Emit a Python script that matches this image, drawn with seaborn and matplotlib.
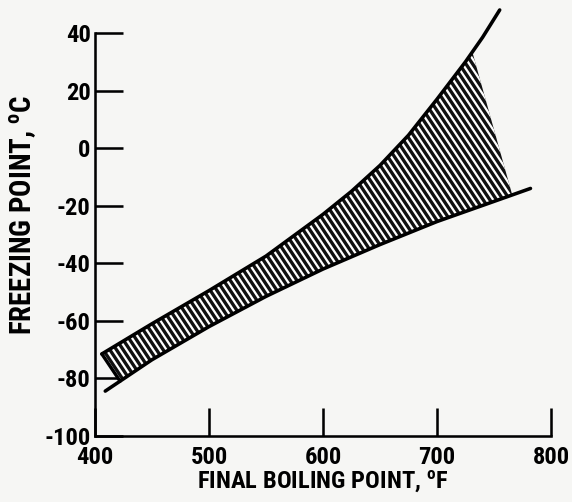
import numpy as np
import pandas as pd
import matplotlib
matplotlib.use("Agg")
import matplotlib.pyplot as plt
import matplotlib.hatch as mhatch
from matplotlib.path import Path
from matplotlib import font_manager as fm
import seaborn as sns

# ---- data ----
upper_x = [406, 450, 500, 550, 600, 625, 650, 675, 700, 725, 740, 755]
upper_y = [-71.5, -61, -49.5, -37.5, -23, -15, -6, 4.5, 17, 30, 38.5, 48]
lower_x = [409, 450, 500, 550, 600, 650, 700, 750, 782]
lower_y = [-84.4, -73.5, -62, -51.5, -42, -33.5, -25.5, -18.5, -14]

# x-limits of the hatched band on the upper / lower curve
hatch_left_upper, hatch_left_lower = 406, 422
hatch_right_upper, hatch_right_lower = 731, 766

x_ticks = [400, 500, 600, 700, 800]
y_ticks = [-100, -80, -60, -40, -20, 0, 20, 40]
x_label = "FINAL BOILING POINT, $^{\\mathbf{o}}$F"
y_label = "FREEZING POINT, $^{\\mathbf{o}}$C"


# ---- steeper '\' hatch (like the original drafting hatch) ----
class SteepSouthEastHatch(mhatch.HatchPatternBase):
    SLOPE = 1.5

    def __init__(self, hatch, density):
        c = hatch.count('\\')
        if c:
            self.d = 0.5 / (2 * c)
            kmin = -2
            kmax = int(np.ceil((1 + self.SLOPE) / self.d)) + 2
            self.ks = np.arange(kmin, kmax + 1)
            self.num_vertices = 2 * len(self.ks)
        else:
            self.ks = np.array([])
            self.num_vertices = 0

    def set_vertices_and_codes(self, vertices, codes):
        s = self.SLOPE
        b = self.ks * self.d
        y0, y1 = 1.3, -0.3
        vertices[0::2, 0] = (b - y0) / s
        vertices[0::2, 1] = y0
        vertices[1::2, 0] = (b - y1) / s
        vertices[1::2, 1] = y1
        codes[0::2] = Path.MOVETO
        codes[1::2] = Path.LINETO


try:
    mhatch._hatch_types = [SteepSouthEastHatch if t is mhatch.SouthEastHatch else t
                           for t in mhatch._hatch_types]
except Exception:
    pass

# ---- fonts: prefer a bold condensed sans ----
avail = {f.name for f in fm.fontManager.ttflist}
fam, stretch = "DejaVu Sans", "normal"
for p in ["Liberation Sans Narrow", "Roboto Condensed", "DejaVu Sans Condensed",
          "Noto Sans Condensed", "Open Sans Condensed"]:
    if p in avail:
        fam, stretch = p, "normal"
        break
else:
    for f in fm.fontManager.ttflist:
        if f.stretch in ("condensed", "semi-condensed") and f.name in (
                "DejaVu Sans", "Noto Sans", "Open Sans", "Roboto", "Liberation Sans"):
            fam, stretch = f.name, f.stretch
            break

sns.set_style("ticks")
plt.rcParams["font.family"] = [fam, "DejaVu Sans"]
plt.rcParams["font.weight"] = "bold"
plt.rcParams["font.stretch"] = stretch
plt.rcParams["mathtext.fontset"] = "custom"
plt.rcParams["mathtext.bf"] = f"{fam}:weight=bold:stretch={stretch}"
plt.rcParams["mathtext.rm"] = f"{fam}:weight=bold:stretch={stretch}"
plt.rcParams["hatch.linewidth"] = 2.0
for k in ["text.color", "axes.labelcolor", "xtick.color", "ytick.color"]:
    plt.rcParams[k] = "black"

BG = "#f6f6f4"
fig = plt.figure(figsize=(572 / 80, 502 / 80), dpi=80, facecolor=BG)
ax = fig.add_axes([95 / 572, 1 - 436 / 502, (551 - 95) / 572, (436 - 33) / 502])
ax.set_facecolor(BG)

up = pd.DataFrame({"x": upper_x, "y": upper_y})
lo = pd.DataFrame({"x": lower_x, "y": lower_y})

# hatched band polygon built from the curves
ux = np.array(upper_x, float); uy = np.array(upper_y, float)
lx = np.array(lower_x, float); ly = np.array(lower_y, float)
seg_u_x = np.concatenate([[hatch_left_upper],
                          ux[(ux > hatch_left_upper) & (ux < hatch_right_upper)],
                          [hatch_right_upper]])
seg_u_y = np.interp(seg_u_x, ux, uy)
seg_l_x = np.concatenate([[hatch_left_lower],
                          lx[(lx > hatch_left_lower) & (lx < hatch_right_lower)],
                          [hatch_right_lower]])
seg_l_y = np.interp(seg_l_x, lx, ly)
poly_x = np.concatenate([seg_u_x, seg_l_x[::-1]])
poly_y = np.concatenate([seg_u_y, seg_l_y[::-1]])
# dark band with light stripes (the inked drafting hatch)
band = ax.fill(poly_x, poly_y, facecolor="#111111", edgecolor="white",
               linewidth=0, hatch="\\\\")
for p in band:
    if hasattr(p, "set_hatch_linewidth"):
        p.set_hatch_linewidth(2.0)
# left closing edge of the band
ax.plot([seg_u_x[0], seg_l_x[0]], [seg_u_y[0], seg_l_y[0]],
        color="black", lw=3.0, solid_capstyle="round")

sns.lineplot(data=up, x="x", y="y", ax=ax, color="black", lw=3.2,
             sort=False, estimator=None)
sns.lineplot(data=lo, x="x", y="y", ax=ax, color="black", lw=3.2,
             sort=False, estimator=None)
for ln in ax.lines:
    ln.set_solid_capstyle("round")
    ln.set_solid_joinstyle("round")
    ln.set_clip_on(False)

ax.set_xlim(400, 800)
ax.set_ylim(-100, 40)
ax.set_xticks(x_ticks)
ax.set_yticks(y_ticks)
ax.set_xticklabels([str(v) for v in x_ticks])
ax.set_yticklabels([str(v) for v in y_ticks])
for s in ["top", "right"]:
    ax.spines[s].set_visible(False)
for s in ["left", "bottom"]:
    ax.spines[s].set_linewidth(2.3)
    ax.spines[s].set_color("black")
ax.tick_params(axis="both", direction="in", length=25, width=2.3,
               colors="black", labelsize=22, bottom=True, left=True)
ax.tick_params(axis="y", pad=4)
ax.tick_params(axis="x", pad=9)
for lab in ax.get_xticklabels() + ax.get_yticklabels():
    lab.set_fontweight("bold")
    lab.set_fontstretch(stretch)

ax.set_xlabel(x_label, fontsize=22, fontweight="bold", fontstretch=stretch)
ax.set_ylabel(y_label, fontsize=26, fontweight="bold", fontstretch=stretch)
ax.xaxis.set_label_coords(0.5, -0.081)
ax.yaxis.set_label_coords(-0.123, 0.548)

fig.savefig("out.png", dpi=80, facecolor=BG)
